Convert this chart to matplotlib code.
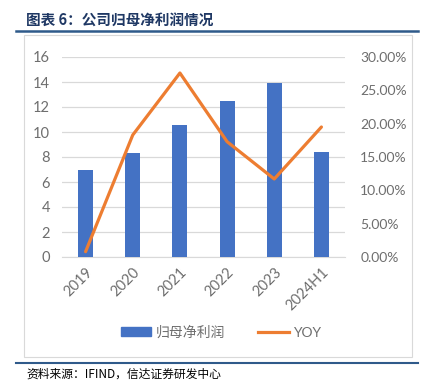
import matplotlib
matplotlib.use("Agg")
import matplotlib.pyplot as plt
from matplotlib.lines import Line2D
from matplotlib.patches import Rectangle
from matplotlib.ticker import FuncFormatter

plt.rcParams['font.family'] = ['Lato', 'Noto Sans CJK SC', 'DejaVu Sans']

categories = ["2019", "2020", "2021", "2022", "2023", "2024H1"]
profit = [7.0, 8.3, 10.6, 12.45, 13.9, 8.4]
yoy = [0.8, 18.3, 27.6, 17.3, 11.7, 19.5]
left_ticks = [0, 2, 4, 6, 8, 10, 12, 14, 16]
right_ticks = [0, 5, 10, 15, 20, 25, 30]

W, H = 431, 390
fig = plt.figure(figsize=(W / 100, H / 100), dpi=100)

def fx(px):
    return px / W

def fy(py):
    return 1 - py / H

ax = fig.add_axes([fx(62), fy(257), fx(345) - fx(62), fy(57) - fy(257)])
ax2 = ax.twinx()

x = list(range(len(categories)))
ax.bar(x, profit, width=0.32, color="#4472C4", zorder=3, label="归母净利润")
ax2.plot(x, yoy, color="#ED7D31", lw=2.3, solid_capstyle="round", zorder=4, label="YOY")

ax.set_xlim(-0.5, len(categories) - 0.5)
ax.set_ylim(0, 16)
ax.set_yticks(left_ticks)
ax2.set_ylim(0, 30)
ax2.set_yticks(right_ticks)
ax2.yaxis.set_major_formatter(FuncFormatter(lambda v, p: f"{v:.2f}%"))

ax.set_xticks(x)
ax.set_xticklabels(categories, rotation=45, ha="right", rotation_mode="anchor")
ax.grid(axis="y", color="#D9D9D9", lw=0.9, zorder=0)
ax.set_axisbelow(True)

tick_color = "#6E6E6E"
for a in (ax, ax2):
    for s in ("top", "left", "right"):
        a.spines[s].set_visible(False)
    a.spines["bottom"].set_color("#D9D9D9")
    a.tick_params(length=0, colors=tick_color, labelsize=10.5)
ax2.tick_params(axis="y", labelsize=10)
ax2.spines["bottom"].set_visible(False)
ax.tick_params(axis="y", pad=8.5)
ax2.tick_params(axis="y", pad=11)
ax.tick_params(axis="x", pad=6)

handles = [Rectangle((0, 0), 1, 1, color="#4472C4"),
           Line2D([0], [0], color="#ED7D31", lw=2.3)]
fig.legend(handles, ["归母净利润", "YOY"], loc="center", bbox_to_anchor=(fx(221), fy(332)),
           ncol=2, frameon=False, fontsize=10, labelcolor=tick_color,
           handlelength=2.2, handleheight=0.6, columnspacing=2.4, handletextpad=0.3)

# chart area border
fig.add_artist(Rectangle((fx(24), fy(357)), fx(412) - fx(24), fy(35) - fy(357),
                         transform=fig.transFigure, fill=False, ec="#D9D9D9", lw=0.8))
# title and rules
fig.text(fx(26), fy(21), "图表 6：公司归母净利润情况", fontsize=10.5, fontweight="bold",
         color="#1F3864", va="center", ha="left",
         family=['Noto Sans CJK SC', 'DejaVu Sans'])
fig.add_artist(Line2D([fx(16), fx(418)], [fy(31), fy(31)], transform=fig.transFigure,
                      color="#2F5A8A", lw=1.8))
fig.add_artist(Line2D([fx(16), fx(418)], [fy(363), fy(363)], transform=fig.transFigure,
                      color="#2F5A8A", lw=1.5))
fig.text(fx(26), fy(374), "资料来源：IFIND，信达证券研发中心", fontsize=8.5, style="italic",
         color="#000000", va="center", ha="left",
         family=['Noto Sans CJK SC', 'DejaVu Sans'])

fig.savefig("out.png", dpi=100)
